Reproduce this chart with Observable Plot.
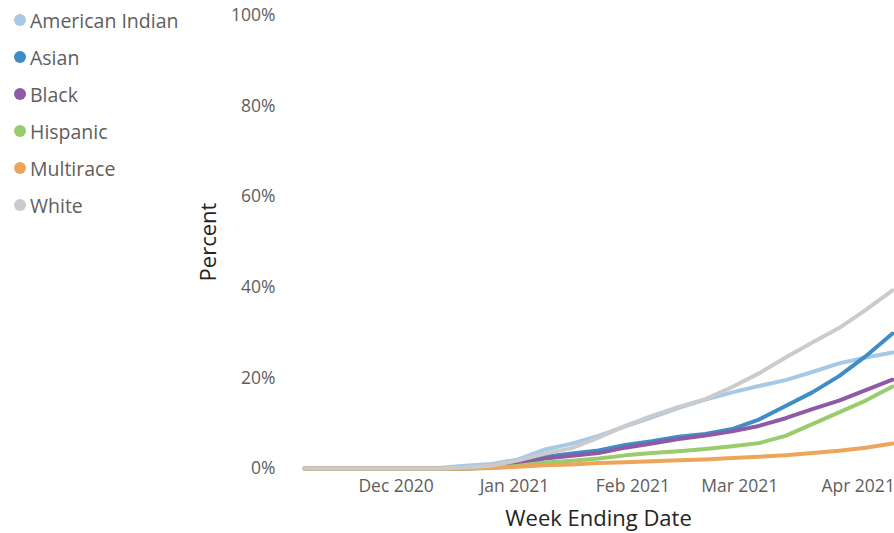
<!DOCTYPE html>
<html>
<head>
<meta charset="utf-8">
<script src="https://cdn.jsdelivr.net/npm/d3@7"></script>
<script src="https://cdn.jsdelivr.net/npm/@observablehq/plot@0.6"></script>
<style>
  html, body { margin: 0; padding: 0; background: #fff; overflow: hidden; }
  #wrap { position: relative; width: 894px; height: 533px; font-family: "Open Sans", "Noto Sans", sans-serif; }
  #chart { position: absolute; left: 0; top: 0; }
  #legend { position: absolute; left: 0; top: 1.5px; }
  .row { height: 37px; display: flex; align-items: center; padding-left: 14px; font-size: 19.5px; color: #605e5c; white-space: nowrap; }
  .dot { width: 12px; height: 12px; border-radius: 50%; margin-right: 4px; flex: none; }
</style>
</head>
<body>
<div id="wrap">
  <div id="chart"></div>
  <div id="legend"></div>
</div>
<script>
// Categories
const races = ["American Indian", "Asian", "Black", "Hispanic", "Multirace", "White"];
const colors = ["#a5c9e6", "#3f8dc6", "#8e5aa6", "#9acb6d", "#eca55a", "#cbcbcb"];

// Week ending dates
const weeks = [
  "2020-11-07", "2020-11-14", "2020-11-21", "2020-11-28", "2020-12-05", "2020-12-12",
  "2020-12-19", "2020-12-26", "2021-01-02", "2021-01-09", "2021-01-16", "2021-01-23",
  "2021-01-30", "2021-02-06", "2021-02-13", "2021-02-20", "2021-02-27", "2021-03-06",
  "2021-03-13", "2021-03-20", "2021-03-27", "2021-04-03", "2021-04-10"
];

// Series values (percent)
const americanIndian = [0, 0, 0, 0, 0, 0.1, 0.6, 1.0, 2.0, 4.2, 5.5, 7.2, 9.3, 11.3, 13.4, 15.2, 16.8, 18.2, 19.5, 21.3, 23.2, 24.5, 25.6];
const asian          = [0, 0, 0, 0, 0, 0, 0, 0.3, 1.2, 2.6, 3.3, 4.0, 5.2, 6.0, 7.0, 7.6, 8.7, 10.8, 13.8, 16.8, 20.4, 24.8, 29.8];
const black          = [0, 0, 0, 0, 0, 0, 0, 0.2, 1.0, 2.2, 2.8, 3.4, 4.6, 5.5, 6.5, 7.3, 8.2, 9.4, 11.1, 13.1, 15.0, 17.3, 19.6];
const hispanic       = [0, 0, 0, 0, 0, 0, 0, 0.1, 0.6, 1.3, 1.7, 2.2, 2.9, 3.4, 3.8, 4.3, 4.9, 5.6, 7.2, 9.8, 12.4, 15.0, 18.1];
const multirace      = [0, 0, 0, 0, 0, 0, 0, 0.1, 0.4, 0.7, 0.9, 1.2, 1.4, 1.6, 1.8, 2.0, 2.3, 2.6, 2.9, 3.4, 3.9, 4.6, 5.5];
const white          = [0, 0, 0, 0, 0, 0, 0.2, 0.6, 1.8, 3.3, 4.5, 6.8, 9.4, 11.6, 13.6, 15.3, 18.0, 21.0, 24.5, 27.8, 31.0, 35.0, 39.3];

// Tick labels
const xTickDates = ["2020-12-01", "2021-01-01", "2021-02-01", "2021-03-01", "2021-04-01"];
const yTicks = [0, 20, 40, 60, 80, 100];

const seriesList = [americanIndian, asian, black, hispanic, multirace, white];
const parse = d3.utcParse("%Y-%m-%d");
const data = races.flatMap((r, i) => weeks.map((w, j) => ({ race: r, date: parse(w), value: seriesList[i][j] })));

const chart = Plot.plot({
  width: 894,
  height: 533,
  marginLeft: 304,
  marginRight: 2,
  marginTop: 15,
  marginBottom: 65,
  style: { fontFamily: "'Open Sans', 'Noto Sans', sans-serif", fontSize: "17.5px", color: "#605e5c", background: "#fff" },
  x: { type: "utc", domain: [parse(weeks[0]), parse(weeks[weeks.length - 1])], ticks: xTickDates.map(parse), tickFormat: d3.utcFormat("%b %Y"), tickSize: 0, tickPadding: 11, label: null },
  y: { domain: [0, 100], ticks: yTicks, tickFormat: d => d + "%", tickSize: 0, tickPadding: 29, label: null },
  color: { domain: races, range: colors },
  marks: [
    Plot.lineY(data, { x: "date", y: "value", z: "race", stroke: "race", strokeWidth: 4, strokeLinejoin: "round", strokeLinecap: "round" }),
    Plot.text(["Week Ending Date"], { text: d => d, frameAnchor: "bottom", lineAnchor: "middle", textAnchor: "middle", dy: 50, fontSize: 22, fill: "#252423" }),
    Plot.text(["Percent"], { text: d => d, frameAnchor: "left", lineAnchor: "middle", textAnchor: "middle", dx: -96, rotate: -90, fontSize: 22, fill: "#252423" })
  ]
});
document.getElementById("chart").appendChild(chart);

const legend = document.getElementById("legend");
races.forEach((r, i) => {
  const row = document.createElement("div");
  row.className = "row";
  const dot = document.createElement("span");
  dot.className = "dot";
  dot.style.background = colors[i];
  const label = document.createElement("span");
  label.textContent = r;
  row.appendChild(dot);
  row.appendChild(label);
  legend.appendChild(row);
});
</script>
</body>
</html>
